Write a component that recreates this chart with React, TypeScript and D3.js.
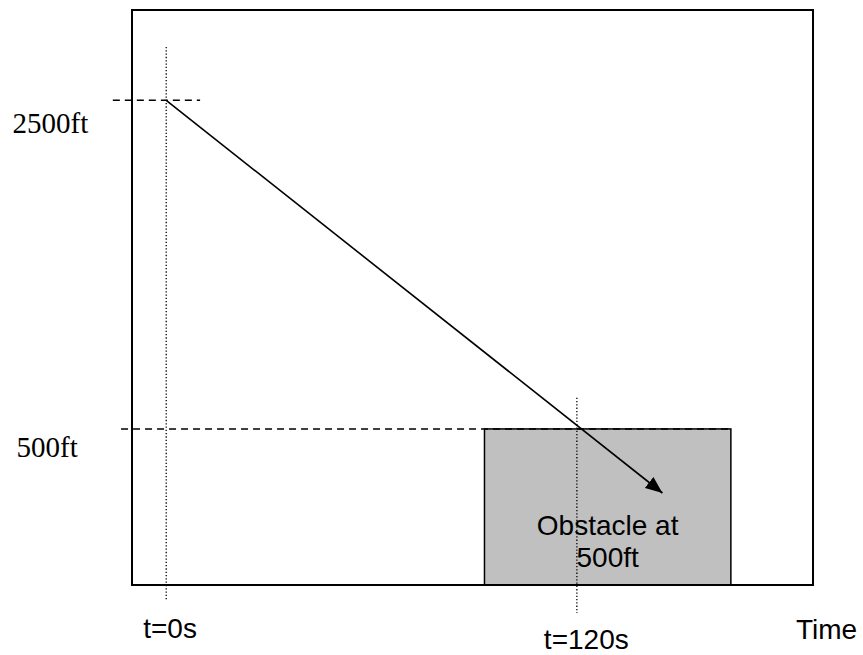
import React from "react";
import * as d3 from "d3";

// ---- data ----
const timeMarks = [
  { t: 0, label: "t=0s", guideTop: 2825, guideBottom: -540 },
  { t: 120, label: "t=120s", guideTop: 690, guideBottom: -620 },
];
const altitudeMarks = [
  { alt: 2500, label: "2500ft", dashFrom: -15.6, dashTo: 9.9 },
  { alt: 500, label: "500ft", dashFrom: -13.2, dashTo: 165 },
];
const descentPath = [
  { t: 0, alt: 2500 },
  { t: 145, alt: 110 },
];
const obstacleT = [93, 165];
const obstacleTop = 500;
const obstacleLabel = ["Obstacle at", "500ft"];
const xAxisLabel = "Time";

const timeDomain = [-10, 189];
const altDomain = [-450, 3050];

export default function App() {
  const W = 863;
  const H = 655;
  const x = d3.scaleLinear().domain(timeDomain).range([132, 813]);
  const y = d3.scaleLinear().domain(altDomain).range([585, 10]);
  const line = d3
    .line<{ t: number; alt: number }>()
    .x((d) => x(d.t))
    .y((d) => y(d.alt));

  const sans = "Liberation Sans, Arial, Helvetica, sans-serif";
  const serif = "Liberation Serif, Times New Roman, serif";
  const boxX0 = x(obstacleT[0]);
  const boxX1 = x(obstacleT[1]);
  const boxCx = (boxX0 + boxX1) / 2;

  return (
    <svg
      width={W}
      height={H}
      style={{ position: "absolute", left: 0, top: 0, background: "#fff" }}
    >
      <defs>
        <marker
          id="arrowHead"
          viewBox="0 0 17 14"
          refX="17"
          refY="7"
          markerUnits="userSpaceOnUse"
          markerWidth="17"
          markerHeight="14"
          orient="auto"
        >
          <path d="M0,0 L17,7 L0,14 z" fill="#000" />
        </marker>
      </defs>

      {/* obstacle box */}
      <rect
        x={boxX0}
        y={y(obstacleTop)}
        width={boxX1 - boxX0}
        height={y(altDomain[0]) - y(obstacleTop)}
        fill="#c0c0c0"
        stroke="#000"
        strokeWidth={1.5}
      />

      {/* frame */}
      <rect
        x={x(timeDomain[0])}
        y={y(altDomain[1])}
        width={x(timeDomain[1]) - x(timeDomain[0])}
        height={y(altDomain[0]) - y(altDomain[1])}
        fill="none"
        stroke="#000"
        strokeWidth={2}
      />

      {/* altitude dashed guides */}
      {altitudeMarks.map((m) => (
        <line
          key={m.label}
          x1={x(m.dashFrom)}
          x2={x(m.dashTo)}
          y1={y(m.alt)}
          y2={y(m.alt)}
          stroke="#000"
          strokeWidth={1.5}
          strokeDasharray="7,5"
        />
      ))}

      {/* time dotted guides */}
      {timeMarks.map((m) => (
        <line
          key={m.label}
          x1={x(m.t)}
          x2={x(m.t)}
          y1={y(m.guideTop)}
          y2={y(m.guideBottom)}
          stroke="#000"
          strokeWidth={1.3}
          strokeDasharray="1.3,2"
        />
      ))}

      {/* descent arrow */}
      <path
        d={line(descentPath) || ""}
        fill="none"
        stroke="#000"
        strokeWidth={1.6}
        markerEnd="url(#arrowHead)"
      />

      {/* obstacle label */}
      <text
        x={boxCx}
        y={535}
        textAnchor="middle"
        fontFamily={sans}
        fontSize={28}
        fill="#000"
      >
        {obstacleLabel[0]}
      </text>
      <text
        x={boxCx}
        y={567}
        textAnchor="middle"
        fontFamily={sans}
        fontSize={28}
        fill="#000"
      >
        {obstacleLabel[1]}
      </text>

      {/* altitude labels */}
      {altitudeMarks.map((m, i) => (
        <text
          key={m.label}
          x={i === 0 ? 12.5 : 16.5}
          y={y(m.alt) + (i === 0 ? 33 : 28)}
          fontFamily={serif}
          fontSize={29}
          fill="#000"
        >
          {m.label}
        </text>
      ))}

      {/* time labels */}
      {timeMarks.map((m, i) => (
        <text
          key={m.label}
          x={x(m.t) - 23 - i * 10}
          y={i === 0 ? 638 : 649}
          fontFamily={sans}
          fontSize={28}
          fill="#000"
        >
          {m.label}
        </text>
      ))}

      <text x={796} y={639} fontFamily={sans} fontSize={28} fill="#000">
        {xAxisLabel}
      </text>
    </svg>
  );
}
